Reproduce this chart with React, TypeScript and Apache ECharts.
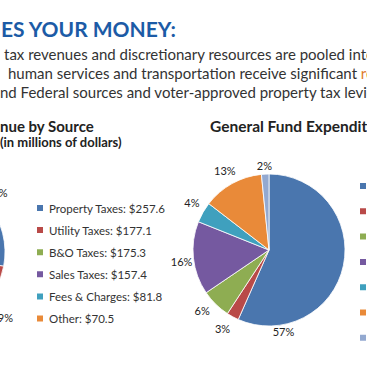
import React, { useEffect, useRef } from "react";
import * as echarts from "echarts";

const revenueNames = ["Property Taxes", "Utility Taxes", "B&O Taxes", "Sales Taxes", "Fees & Charges", "Other"];
const revenueValues = [257.6, 177.1, 175.3, 157.4, 81.8, 70.5];
const revenueColors = ["#4A76AE", "#B94A48", "#8EAD52", "#7559A0", "#3FA0BE", "#E98A39"];

const expenditureNames = [
  "Public Safety",
  "Utilities & Transportation",
  "Health & Human Services",
  "Administration",
  "Neighborhoods & Development",
  "Arts, Culture & Recreation",
  "Other",
];
const expenditureValues = [56.8, 2.6, 6.3, 15.6, 4.4, 13.0, 1.6];
const expenditureColors = ["#4A76AE", "#B94A48", "#8EAD52", "#7559A0", "#3FA0BE", "#E98A39", "#93A9D0"];

const headline = "ES YOUR MONEY:";
const bodyLines = [
  "tax revenues and discretionary resources are pooled into",
  "human services and transportation receive significant ",
  "nd Federal sources and voter-approved property tax levies",
];

const FONT = "Lato, 'Open Sans', sans-serif";

export default function App() {
  const ref = useRef<HTMLDivElement>(null);
  useEffect(() => {
    if (!ref.current) return;
    const chart = echarts.init(ref.current, null, { renderer: "svg" });
    const revCenter = [-71, 252];
    const expCenter = [269, 250];
    const R = 76;
    const polar = (c: number[], r: number, deg: number) => {
      const a = (deg * Math.PI) / 180;
      return { x: c[0] + r * Math.sin(a), y: c[1] - r * Math.cos(a) };
    };
    const revData = revenueNames.map((n, i) => ({ name: n, value: revenueValues[i], itemStyle: { color: revenueColors[i] } }));
    const expData = expenditureNames.map((n, i) => ({ name: n, value: expenditureValues[i], itemStyle: { color: expenditureColors[i] } }));
    const ringStyle = { color: "rgba(0,0,0,0)", borderWidth: 0 };
    const revNudge: Record<number, { dx: number; dy: number }> = { 0: { dx: -4, dy: 0 }, 1: { dx: 8, dy: -1 } };
    const expNudge: Record<number, { dx: number; dy: number }> = {
      2: { dx: -3, dy: -4 },
      3: { dx: 3, dy: 2 },
      4: { dx: 2, dy: -2 },
      6: { dx: 0, dy: 6 },
      1: { dx: -3, dy: -1 },
    };
    chart.setOption({
      animation: false,
      backgroundColor: "#ffffff",
      textStyle: { fontFamily: FONT },
      legend: [
        {
          orient: "vertical",
          left: 35,
          top: 201,
          padding: 0,
          itemWidth: 8,
          itemHeight: 8,
          itemGap: 8.1,
          icon: "rect",
          selectedMode: false,
          data: revenueNames.map((n, i) => ({ name: n, itemStyle: { color: revenueColors[i] } })),
          formatter: (name: string) => `${name}: $${revenueValues[revenueNames.indexOf(name)]}`,
          textStyle: { fontFamily: FONT, fontSize: 11.5, color: "#333", lineHeight: 14 },
        },
        {
          orient: "vertical",
          left: 358,
          top: 179,
          padding: 0,
          itemWidth: 8,
          itemHeight: 8,
          itemGap: 11.3,
          icon: "rect",
          selectedMode: false,
          data: expenditureNames.map((n, i) => ({ name: n, itemStyle: { color: expenditureColors[i] } })),
          textStyle: { fontFamily: FONT, fontSize: 11.5, color: "#333", lineHeight: 14 },
        },
      ],
      graphic: [
        {
          type: "text",
          x: 1,
          y: 28.8,
          style: { text: headline, font: `bold 21px ${FONT}`, fill: "#1C5BA6", textVerticalAlign: "middle" },
        },
        {
          type: "text",
          x: 4,
          y: 54,
          style: { text: bodyLines[0], font: `15px ${FONT}`, fill: "#333", textVerticalAlign: "middle" },
        },
        {
          type: "text",
          x: 8,
          y: 73,
          style: {
            text: bodyLines[1] + "{o|resources}",
            font: `15px ${FONT}`,
            fill: "#333",
            textVerticalAlign: "middle",
            rich: { o: { fill: "#E07B2A", font: `15px ${FONT}` } },
          },
        },
        {
          type: "text",
          x: 0,
          y: 92,
          style: { text: bodyLines[2], font: `15px ${FONT}`, fill: "#333", textVerticalAlign: "middle" },
        },
        {
          type: "text",
          x: 0,
          y: 126,
          style: { text: "nue by Source", font: `bold 15px ${FONT}`, fill: "#222", textVerticalAlign: "middle" },
        },
        {
          type: "text",
          x: 0,
          y: 142,
          style: { text: "(in millions of dollars)", font: `bold 13px ${FONT}`, fill: "#222", textVerticalAlign: "middle" },
        },
        {
          type: "text",
          x: 210,
          y: 126,
          style: { text: "General Fund Expenditures", font: `bold 15.5px ${FONT}`, fill: "#222", textVerticalAlign: "middle" },
        },
      ],
      series: [
        {
          type: "pie",
          name: "Revenue",
          center: revCenter,
          radius: [0, R],
          startAngle: 90,
          clockwise: true,
          avoidLabelOverlap: false,
          silent: true,
          label: { show: false },
          labelLine: { show: false },
          itemStyle: { borderColor: "#fff", borderWidth: 0.8 },
          data: revData,
        },
        {
          type: "pie",
          name: "Expenditure",
          center: expCenter,
          radius: [0, R],
          startAngle: 90,
          clockwise: true,
          avoidLabelOverlap: false,
          silent: true,
          label: { show: false },
          labelLine: { show: false },
          itemStyle: { borderColor: "#fff", borderWidth: 0.8 },
          data: expData,
        },
        {
          type: "pie",
          name: "RevenueLabels",
          center: revCenter,
          radius: [80, 100],
          startAngle: 90,
          silent: true,
          avoidLabelOverlap: false,
          itemStyle: ringStyle,
          labelLine: { show: false },
          label: {
            show: true,
            position: "inside",
            fontFamily: FONT,
            fontSize: 11,
            color: "#222",
            formatter: (p: any) => `${Math.round(p.percent)}%`,
          },
          labelLayout: (params: any) => revNudge[params.dataIndex] || {},
          data: revenueNames.map((n, i) => ({ name: n, value: revenueValues[i] })),
        },
        {
          type: "pie",
          name: "ExpenditureLabels",
          center: expCenter,
          radius: [78, 98],
          startAngle: 90,
          silent: true,
          avoidLabelOverlap: false,
          itemStyle: ringStyle,
          labelLine: { show: false },
          label: {
            show: true,
            position: "inside",
            fontFamily: FONT,
            fontSize: 11,
            color: "#222",
            formatter: (p: any) => `${Math.round(p.value)}%`,
          },
          labelLayout: (params: any) => {
            if (params.dataIndex === 0) {
              const pt = polar(expCenter, 83, 170);
              return { x: pt.x, y: pt.y, align: "center", verticalAlign: "middle" };
            }
            return expNudge[params.dataIndex] || {};
          },
          data: expenditureNames.map((n, i) => ({ name: n, value: expenditureValues[i] })),
        },
      ],
    });
    return () => chart.dispose();
  }, []);
  return <div ref={ref} style={{ position: "absolute", left: 0, top: 0, width: 367, height: 367 }} />;
}
